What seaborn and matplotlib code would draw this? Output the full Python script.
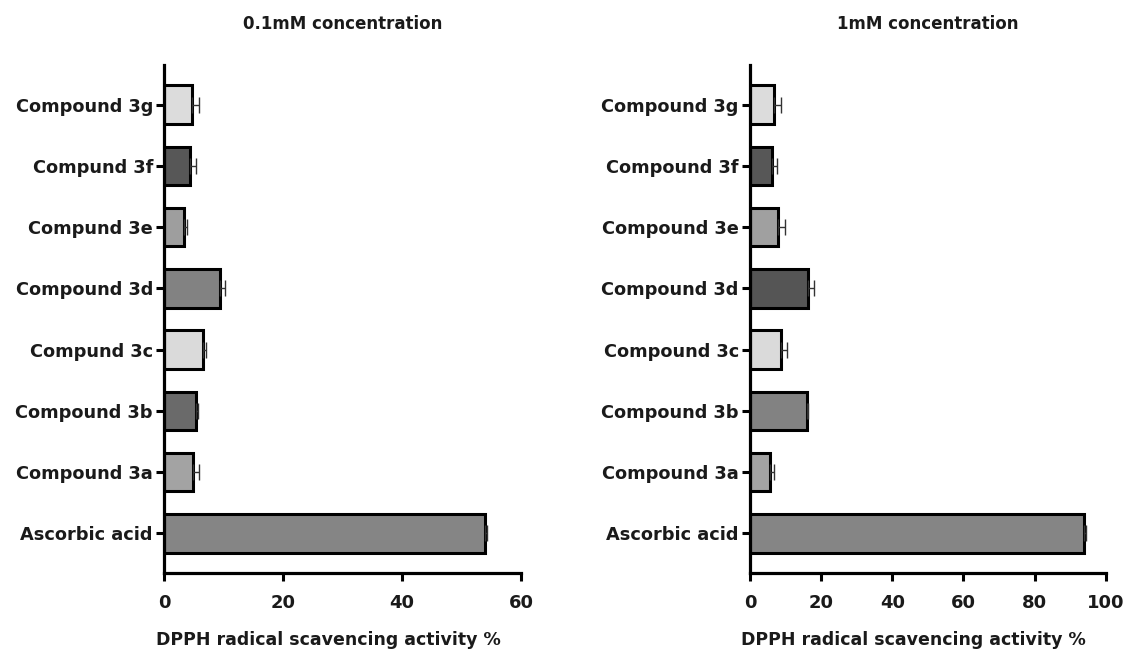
import matplotlib
matplotlib.use("Agg")
import matplotlib.pyplot as plt
import seaborn as sns
import pandas as pd
import numpy as np

sns.set_theme(style="ticks")
plt.rcParams['font.family'] = ['DejaVu Sans']
plt.rcParams['font.weight'] = 'bold'

labels_left = ["Compound 3g", "Compund 3f", "Compund 3e", "Compound 3d",
               "Compund 3c", "Compound 3b", "Compound 3a", "Ascorbic acid"]
values_left = [4.7, 4.3, 3.4, 9.4, 6.6, 5.3, 4.8, 54.0]
errors_left = [1.1, 1.0, 0.45, 0.9, 0.45, 0.4, 1.0, 0.3]
colors_left = ["#dcdcdc", "#575757", "#9e9e9e", "#828282",
               "#dadada", "#6a6a6a", "#a3a3a3", "#858585"]

labels_right = ["Compound 3g", "Compound 3f", "Compound 3e", "Compound 3d",
                "Compound 3c", "Compound 3b", "Compound 3a", "Ascorbic acid"]
values_right = [6.8, 6.2, 7.9, 16.3, 8.6, 16.1, 5.6, 94.0]
errors_right = [1.9, 1.5, 2.0, 1.7, 1.7, 0.3, 1.3, 0.5]
colors_right = ["#dcdcdc", "#575757", "#a0a0a0", "#555555",
                "#dadada", "#828282", "#a3a3a3", "#858585"]

titles = ["0.1mM concentration", "1mM concentration"]
xlabel = "DPPH radical scavencing activity %"
xticks_left = [0, 20, 40, 60]
xticks_right = [0, 20, 40, 60, 80, 100]

fig = plt.figure(figsize=(11.26, 6.53), dpi=100)
ax1 = fig.add_axes([0.1457, 0.1225, 0.3170, 0.778])
ax2 = fig.add_axes([0.6660, 0.1225, 0.3160, 0.778])

panels = [
    (ax1, labels_left, values_left, errors_left, colors_left, xticks_left, titles[0]),
    (ax2, labels_right, values_right, errors_right, colors_right, xticks_right, titles[1]),
]

for ax, labs, vals, errs, cols, xt, title in panels:
    df = pd.DataFrame({"label": labs, "value": vals})
    sns.barplot(data=df, y="label", x="value", hue="label", palette=cols,
                order=labs, hue_order=labs, orient="h", ax=ax, legend=False,
                width=0.63, edgecolor="black", linewidth=2.2, saturation=1)
    ypos = np.arange(len(labs))
    ax.errorbar(vals, ypos, xerr=[np.zeros(len(errs)), errs], fmt="none",
                ecolor="#333333", elinewidth=1.0, capsize=6, capthick=1.0, zorder=1)
    ax.set_ylim(len(labs) - 1 + 0.65, -0.65)
    ax.set_xlim(xt[0], xt[-1])
    ax.set_xticks(xt)
    ax.set_ylabel("")
    ax.set_xlabel(xlabel, fontsize=12.5, fontweight="bold", labelpad=11, color="#1a1a1a")
    ax.xaxis.set_label_coords(0.46, -0.115)
    ax.set_title(title, fontsize=12, fontweight="bold", pad=26, color="#1a1a1a")
    for s in ["top", "right"]:
        ax.spines[s].set_visible(False)
    for s in ["left", "bottom"]:
        ax.spines[s].set_linewidth(2.3)
        ax.spines[s].set_color("black")
    ax.tick_params(axis="both", width=2.2, length=6, color="black",
                   labelcolor="#1a1a1a")
    ax.tick_params(axis="y", pad=2, labelsize=12.8)
    ax.tick_params(axis="x", pad=9, labelsize=13)
    for t in ax.get_xticklabels() + ax.get_yticklabels():
        t.set_fontweight("bold")

fig.savefig("out.png", dpi=100)
